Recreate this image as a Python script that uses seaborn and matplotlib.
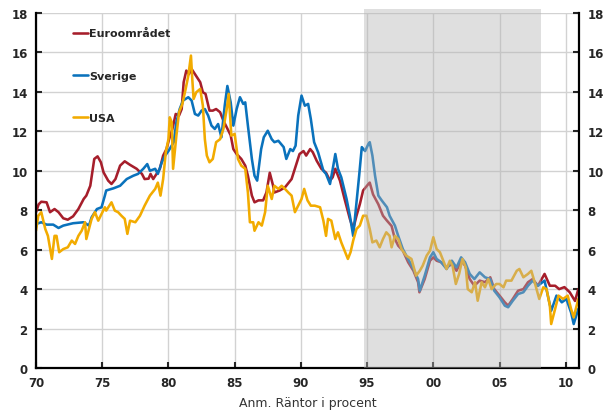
import seaborn as sns
import matplotlib.pyplot as plt

# Räntor 1970-2010, avläst ur originalbilden
euro_years = [1970.0, 1970.2, 1970.4, 1970.8, 1971.06, 1971.4, 1971.7, 1972.06, 1972.4, 1972.8,
              1973.2, 1973.6, 1973.8, 1974.1, 1974.4, 1974.65, 1974.9, 1975.1, 1975.45, 1975.7,
              1976.0, 1976.35, 1976.7, 1977.1, 1977.6, 1978.0, 1978.2, 1978.5, 1978.65, 1978.85,
              1979.1, 1979.35, 1979.6, 1979.85, 1980.05, 1980.3, 1980.55, 1980.8, 1981.0, 1981.15,
              1981.35, 1981.55, 1981.75, 1982.0, 1982.25, 1982.4, 1982.6, 1982.8, 1983.1, 1983.35,
              1983.6, 1983.9, 1984.15, 1984.4, 1984.7, 1984.9, 1985.15, 1985.5, 1985.8, 1986.0,
              1986.3, 1986.5, 1986.8, 1987.15, 1987.4, 1987.65, 1987.9, 1988.0, 1988.4, 1988.8,
              1989.3, 1989.7, 1989.9, 1990.2, 1990.4, 1990.7, 1990.9, 1991.2, 1991.55, 1991.9,
              1992.2, 1992.4, 1992.6, 1992.95, 1993.3, 1993.7, 1993.95, 1994.2, 1994.45, 1994.7,
              1995.1, 1995.2, 1995.45, 1995.85, 1996.2, 1996.5, 1996.85, 1997.1, 1997.35, 1997.7,
              1998.1, 1998.5, 1998.85, 1998.95, 1999.35, 1999.75, 2000.0, 2000.25, 2000.6, 2001.0,
              2001.4, 2001.75, 2002.1, 2002.4, 2002.75, 2003.1, 2003.5, 2003.9, 2004.3, 2004.6,
              2005.0, 2005.4, 2005.65, 2006.0, 2006.4, 2006.8, 2007.15, 2007.5, 2007.9, 2008.4,
              2008.8, 2009.2, 2009.5, 2009.9, 2010.3, 2010.7, 2010.95]
euro_rate = [7.9, 8.3, 8.43, 8.4, 7.9, 8.06, 7.9, 7.59, 7.52, 7.69,
             8.06, 8.57, 8.74, 9.24, 10.6, 10.73, 10.43, 9.92, 9.5, 9.33,
             9.58, 10.26, 10.48, 10.3, 10.1, 9.84, 9.58, 9.6, 9.84, 9.58,
             9.84, 10.1, 10.77, 11.1, 11.6, 12.12, 12.88, 12.8, 13.13, 14.49,
             15.08, 14.9, 15.16, 14.9, 14.65, 14.49, 13.98, 13.9, 13.05, 13.05,
             13.13, 12.97, 12.54, 12.2, 11.8, 11.1, 10.85, 10.6, 10.26, 9.75,
             8.74, 8.4, 8.5, 8.5, 8.9, 9.9, 9.25, 8.9, 9.0, 9.16,
             9.58, 10.43, 10.85, 11.0, 10.77, 11.1, 10.94, 10.5, 10.1, 9.9,
             9.5, 9.67, 10.1, 9.5, 8.57, 7.56, 7.05, 7.72, 8.3, 9.0,
             9.33, 9.4, 8.8, 8.3, 7.72, 7.47, 7.2, 6.54, 6.2, 5.95,
             5.36, 4.93, 4.35, 3.84, 4.51, 5.44, 5.61, 5.44, 5.36, 5.1,
             5.27, 4.93, 5.44, 5.19, 4.51, 4.17, 4.43, 4.35, 4.6, 4.0,
             3.67, 3.33, 3.16, 3.5, 3.92, 4.0, 4.35, 4.51, 4.17, 4.77,
             4.17, 4.17, 4.0, 4.1, 3.84, 3.4, 4.0]

swe_years = [1970.0, 1970.4, 1970.8, 1971.3, 1971.7, 1972.06, 1972.8, 1973.6, 1974.0, 1974.2,
             1974.6, 1974.95, 1975.2, 1975.3, 1975.85, 1976.35, 1976.85, 1977.35, 1977.7, 1978.1,
             1978.4, 1978.6, 1979.0, 1979.2, 1979.5, 1979.75, 1980.0, 1980.4, 1980.6, 1980.85,
             1981.1, 1981.5, 1981.75, 1982.0, 1982.25, 1982.5, 1982.75, 1983.0, 1983.25, 1983.5,
             1983.75, 1984.0, 1984.25, 1984.45, 1984.7, 1984.9, 1985.15, 1985.4, 1985.65, 1985.8,
             1986.0, 1986.3, 1986.5, 1986.7, 1987.0, 1987.2, 1987.5, 1987.8, 1988.0, 1988.3,
             1988.7, 1988.9, 1989.2, 1989.4, 1989.6, 1989.8, 1990.05, 1990.3, 1990.55, 1990.75,
             1991.0, 1991.3, 1991.7, 1991.9, 1992.2, 1992.45, 1992.6, 1992.8, 1993.05, 1993.45,
             1993.7, 1993.95, 1994.2, 1994.4, 1994.6, 1994.85, 1995.1, 1995.2, 1995.4, 1995.6,
             1995.85, 1996.1, 1996.5, 1996.7, 1997.1, 1997.35, 1997.7, 1998.1, 1998.5, 1998.85,
             1998.98, 1999.35, 1999.75, 2000.0, 2000.25, 2000.6, 2001.0, 2001.4, 2001.75, 2002.1,
             2002.4, 2002.75, 2003.1, 2003.5, 2003.9, 2004.3, 2004.6, 2005.0, 2005.4, 2005.65,
             2006.0, 2006.4, 2006.8, 2007.15, 2007.5, 2007.9, 2008.4, 2008.65, 2008.9, 2009.3,
             2009.7, 2010.05, 2010.4, 2010.6, 2010.95]
swe_rate = [7.3, 7.39, 7.27, 7.27, 7.1, 7.22, 7.34, 7.39, 7.22, 7.64,
            8.06, 8.15, 8.74, 9.0, 9.11, 9.24, 9.58, 9.75, 9.84, 10.1,
            10.34, 10.0, 10.1, 9.84, 10.43, 10.77, 11.0, 11.45, 12.46, 13.13,
            13.56, 13.73, 13.56, 12.88, 12.8, 13.05, 13.13, 12.8, 12.29, 12.12,
            12.37, 11.7, 13.3, 14.3, 13.47, 12.29, 13.13, 13.73, 13.39, 13.47,
            12.29, 10.6, 9.75, 9.5, 11.1, 11.7, 12.03, 11.6, 11.45, 11.52,
            11.2, 10.6, 11.1, 11.0, 11.27, 12.8, 13.81, 13.3, 13.39, 12.63,
            11.45, 10.94, 10.0, 9.84, 9.33, 10.26, 10.85, 10.1, 9.67, 8.57,
            7.72, 6.7, 8.4, 9.75, 11.2, 11.0, 11.36, 11.45, 10.77, 9.75,
            8.74, 8.5, 8.15, 7.72, 7.22, 6.7, 6.03, 5.53, 5.02, 4.51,
            3.92, 4.68, 5.61, 5.87, 5.53, 5.36, 5.02, 5.44, 5.1, 5.61,
            5.36, 4.77, 4.51, 4.85, 4.6, 4.51, 3.92, 3.58, 3.16, 3.08,
            3.41, 3.75, 3.84, 4.17, 4.43, 4.17, 4.43, 3.67, 2.9, 3.67,
            3.33, 3.5, 2.82, 2.23, 3.0]

usa_years = [1970.0, 1970.17, 1970.4, 1970.7, 1970.9, 1971.2, 1971.4, 1971.55, 1971.75, 1972.06,
             1972.4, 1972.7, 1972.95, 1973.2, 1973.45, 1973.7, 1973.8, 1974.2, 1974.45, 1974.7,
             1974.95, 1975.2, 1975.3, 1975.7, 1975.95, 1976.2, 1976.45, 1976.7, 1976.9, 1977.1,
             1977.5, 1977.85, 1978.2, 1978.6, 1979.0, 1979.2, 1979.4, 1979.6, 1979.8, 1980.0,
             1980.1, 1980.25, 1980.35, 1980.6, 1980.8, 1981.05, 1981.3, 1981.5, 1981.7, 1981.8,
             1981.9, 1982.1, 1982.4, 1982.6, 1982.75, 1982.9, 1983.1, 1983.35, 1983.6, 1983.9,
             1984.15, 1984.4, 1984.55, 1984.75, 1985.0, 1985.25, 1985.5, 1985.8, 1986.0, 1986.15,
             1986.4, 1986.5, 1986.8, 1987.05, 1987.3, 1987.5, 1987.8, 1988.0, 1988.3, 1988.55,
             1988.8, 1989.05, 1989.3, 1989.55, 1989.8, 1990.05, 1990.25, 1990.5, 1990.75, 1991.05,
             1991.45, 1991.7, 1991.9, 1992.05, 1992.3, 1992.6, 1992.8, 1993.05, 1993.3, 1993.55,
             1993.75, 1993.95, 1994.2, 1994.45, 1994.7, 1994.95, 1995.2, 1995.4, 1995.7, 1995.95,
             1996.2, 1996.45, 1996.7, 1996.85, 1997.1, 1997.35, 1997.6, 1997.95, 1998.35, 1998.7,
             1998.98, 1999.2, 1999.5, 1999.75, 2000.0, 2000.25, 2000.5, 2000.75, 2001.0, 2001.25,
             2001.45, 2001.7, 2001.95, 2002.2, 2002.45, 2002.6, 2002.9, 2003.15, 2003.35, 2003.65,
             2003.9, 2004.15, 2004.4, 2004.75, 2005.0, 2005.3, 2005.5, 2005.9, 2006.3, 2006.5,
             2006.8, 2007.15, 2007.4, 2007.65, 2008.0, 2008.3, 2008.55, 2008.8, 2008.9, 2009.2,
             2009.45, 2009.8, 2010.15, 2010.4, 2010.6, 2010.95]
usa_rate = [6.96, 7.72, 7.9, 7.05, 6.7, 5.53, 6.7, 6.7, 5.87, 6.03,
            6.12, 6.46, 6.29, 6.7, 6.96, 7.39, 6.54, 7.56, 7.9, 7.47,
            7.81, 8.15, 7.98, 8.4, 7.98, 7.9, 7.72, 7.56, 6.8, 7.47,
            7.39, 7.72, 8.23, 8.74, 9.08, 9.4, 8.74, 9.58, 10.94, 11.6,
            12.71, 12.46, 10.1, 11.78, 12.97, 13.39, 14.15, 14.82, 15.84, 14.65,
            13.64, 13.98, 14.15, 13.3, 11.6, 10.77, 10.43, 10.6, 11.45, 11.6,
            12.12, 13.13, 13.9, 11.78, 11.87, 10.6, 10.26, 10.1, 8.9, 7.39,
            7.39, 6.96, 7.39, 7.22, 7.9, 9.24, 8.57, 9.24, 9.08, 9.24,
            9.08, 8.9, 8.74, 7.9, 8.23, 8.57, 9.08, 8.5, 8.23, 8.23,
            8.15, 7.47, 6.7, 7.56, 7.47, 6.54, 6.88, 6.37, 5.95, 5.53,
            5.87, 6.46, 7.05, 7.22, 7.72, 7.72, 7.05, 6.37, 6.46, 6.12,
            6.54, 6.88, 6.7, 6.12, 6.7, 6.54, 6.03, 5.7, 5.53, 4.68,
            4.93, 5.19, 5.7, 5.95, 6.63, 6.03, 5.87, 5.44, 5.02, 5.44,
            5.19, 4.26, 4.77, 5.53, 5.1, 4.0, 3.84, 4.35, 3.41, 4.35,
            4.09, 4.51, 4.0, 4.26, 4.26, 4.09, 4.43, 4.43, 4.93, 5.02,
            4.6, 4.77, 4.93, 4.35, 3.5, 4.09, 4.0, 3.16, 2.23, 3.0,
            3.67, 3.5, 3.67, 3.0, 2.57, 3.5]

series = [("Euroområdet", euro_years, euro_rate, "#a61e2b"),
          ("Sverige", swe_years, swe_rate, "#0a72bc"),
          ("USA", usa_years, usa_rate, "#f2ab00")]

x_ticks = [1970, 1975, 1980, 1985, 1990, 1995, 2000, 2005, 2010]
x_labels = ["70", "75", "80", "85", "90", "95", "00", "05", "10"]
y_ticks = [0, 2, 4, 6, 8, 10, 12, 14, 16, 18]
shade_start, shade_end = 1994.8, 2008.1

sns.set_style("white")
plt.rcParams['font.family'] = ['DejaVu Sans']

fig = plt.figure(figsize=(6.04, 4.14), dpi=100)
ax = fig.add_axes([0.0596, 0.1087, 0.899, 0.8575])

for name, yrs, vals, col in series:
    sns.lineplot(x=yrs, y=vals, ax=ax, color=col, linewidth=1.85, label=name, zorder=2)

# grå skuggning ovanpå linjerna
ax.axvspan(shade_start, shade_end, ymin=0, ymax=1.012, color='#b4b4b4', alpha=0.42,
           lw=0, zorder=3, clip_on=False)

ax.set_xlim(1970, 2011)
ax.set_ylim(0, 18)
ax.set_xticks(x_ticks)
ax.set_xticklabels(x_labels)
ax.set_yticks(y_ticks)
ax.grid(True, color='#d2d2d2', linewidth=1.0, zorder=0)
ax.set_axisbelow(True)

ax.tick_params(axis='both', direction='in', length=4, width=1.5, labelsize=8.5,
               left=True, right=True, bottom=True, labelleft=True, labelright=True, pad=6)
for lab in ax.get_xticklabels() + ax.get_yticklabels():
    lab.set_fontweight('bold')
for side in ['left', 'right', 'bottom']:
    ax.spines[side].set_color('black')
    ax.spines[side].set_linewidth(1.6)
ax.spines['top'].set_visible(False)

ax.set_xlabel("Anm. Räntor i procent", fontsize=9, labelpad=5, color='#333333')
ax.set_ylabel("")

leg = ax.legend(loc='upper left', bbox_to_anchor=(0.05, 0.985), frameon=False,
                handlelength=1.3, handletextpad=0.15, labelspacing=2.9,
                prop={'weight': 'bold', 'size': 8})

plt.savefig("out.png", dpi=100)
